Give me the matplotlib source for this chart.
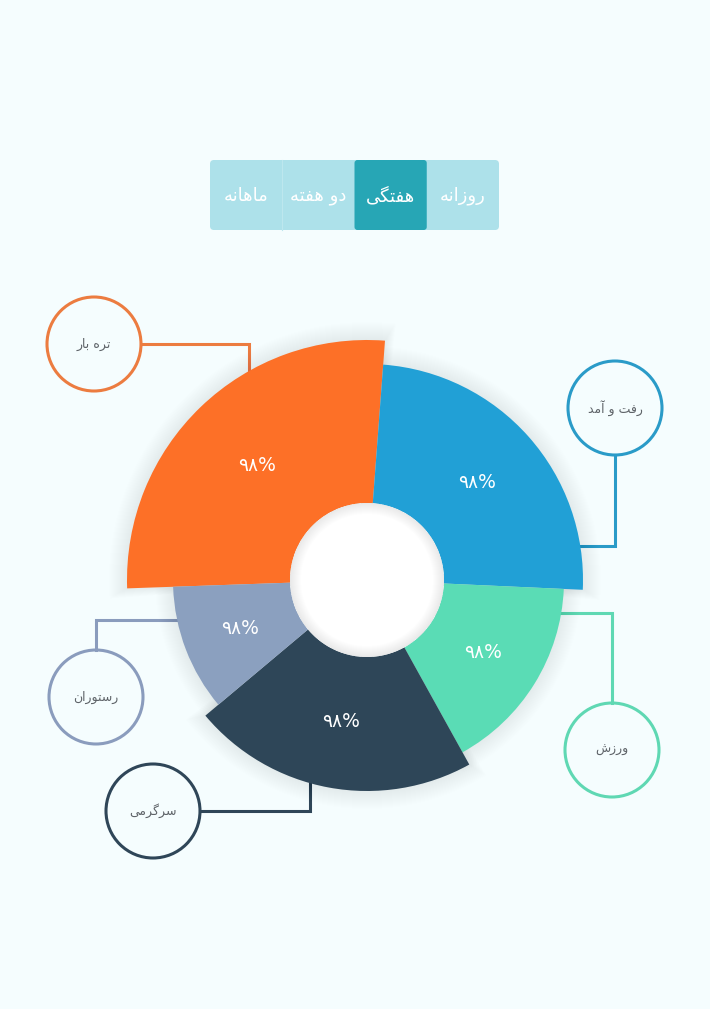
import numpy as np
import matplotlib
matplotlib.use('Agg')
import matplotlib.pyplot as plt
from matplotlib.patches import Circle, FancyBboxPatch

plt.rcParams['font.family'] = ['DejaVu Sans']

# data
categories = ['تره بار', 'رفت و آمد', 'ورزش', 'سرگرمی', 'رستوران']
start_deg = [268.0, 4.3, 92.6, 151.0, 230.0]     # clockwise from top
span_deg = [96.3, 88.3, 58.4, 79.0, 38.0]
outer_r = [240, 216, 197, 211, 194]               # px
percent = [98, 98, 98, 98, 98]
colors = ['#fd7027', '#21a0d6', '#5adcb5', '#2e4658', '#8ba0bf']
edge_colors = ['#ec7c40', '#2a9bc8', '#5fd8b3', '#2f4658', '#8a9cbd']
tabs = ['ماهانه', 'دو هفته', 'هفتگی', 'روزانه']
active_tab = 2

# minimal arabic-script shaping (isolated, final, initial, medial)
FORMS = {
    'ا': ('\uFE8D', '\uFE8E', None, None),
    'آ': ('\uFE81', '\uFE82', None, None),
    'ب': ('\uFE8F', '\uFE90', '\uFE91', '\uFE92'),
    'ت': ('\uFE95', '\uFE96', '\uFE97', '\uFE98'),
    'د': ('\uFEA9', '\uFEAA', None, None),
    'ر': ('\uFEAD', '\uFEAE', None, None),
    'ز': ('\uFEAF', '\uFEB0', None, None),
    'س': ('\uFEB1', '\uFEB2', '\uFEB3', '\uFEB4'),
    'ش': ('\uFEB5', '\uFEB6', '\uFEB7', '\uFEB8'),
    'ف': ('\uFED1', '\uFED2', '\uFED3', '\uFED4'),
    'م': ('\uFEE1', '\uFEE2', '\uFEE3', '\uFEE4'),
    'ن': ('\uFEE5', '\uFEE6', '\uFEE7', '\uFEE8'),
    'ه': ('\uFEE9', '\uFEEA', '\uFEEB', '\uFEEC'),
    'و': ('\uFEED', '\uFEEE', None, None),
    'گ': ('\uFB92', '\uFB93', '\uFB94', '\uFB95'),
    'ی': ('\uFBFC', '\uFBFD', '\uFBFE', '\uFBFF'),
}


def shape(s):
    out = []
    for i, c in enumerate(s):
        if c not in FORMS:
            out.append(c)
            continue
        f = FORMS[c]
        prev = s[i - 1] if i > 0 else None
        nxt = s[i + 1] if i + 1 < len(s) else None
        jp = prev in FORMS and FORMS[prev][2] is not None
        jn = f[2] is not None and nxt in FORMS
        if jp and jn:
            out.append(f[3])
        elif jp:
            out.append(f[1])
        elif jn:
            out.append(f[2])
        else:
            out.append(f[0])
    return ''.join(reversed(out))


def fa_digits(n):
    return str(n).translate(str.maketrans('0123456789', '۰۱۲۳۴۵۶۷۸۹'))


W, H = 710, 1009
bg = '#f5fdfe'
fig = plt.figure(figsize=(W / 100, H / 100), dpi=100, facecolor=bg)
ax = fig.add_axes([0, 0, 1, 1])
ax.set_xlim(0, W)
ax.set_ylim(H, 0)
ax.axis('off')
ax.set_facecolor(bg)

# tab bar
ax.add_patch(FancyBboxPatch((210, 160), 289, 70, boxstyle='round,pad=0,rounding_size=4',
                            fc='#ade1ea', ec='none'))
tab_w = 289 / len(tabs)
for i, t in enumerate(tabs):
    x0 = 210 + i * tab_w
    if i == active_tab:
        ax.add_patch(FancyBboxPatch((x0, 160), tab_w, 70, boxstyle='round,pad=0,rounding_size=3',
                                    fc='#27a6b5', ec='none'))
    elif i > 0 and i != active_tab + 1:
        ax.plot([x0, x0], [160, 230], color='#bde7ee', lw=0.8)
    ax.text(x0 + tab_w / 2, 196, shape(t), color='white', fontsize=13,
            ha='center', va='center')

# callouts: circle centre, connector path
callouts = [
    ((94, 344), [(141, 344), (249, 344), (249, 372)]),
    ((615, 408), [(615, 455), (615, 546), (570, 546)]),
    ((612, 750), [(612, 703), (612, 613), (555, 613)]),
    ((153, 811), [(200, 811), (310, 811), (310, 780)]),
    ((96, 697), [(96, 650), (96, 620), (185, 620)]),
]
for (c, path), lab, ec in zip(callouts, categories, edge_colors):
    ax.add_patch(Circle(c, 47, fc=bg, ec=ec, lw=2.2))
    xs, ys = zip(*path)
    ax.plot(xs, ys, color=ec, lw=2.2, solid_joinstyle='miter')
    ax.text(c[0], c[1], shape(lab), color='#5f6469', fontsize=9, ha='center', va='center')

# donut (polar axes placed so 1 radial unit = 1 px)
cx, cy, R, inner = 367, 580, 270, 77
pax = fig.add_axes([(cx - R) / W, (H - cy - R) / H, 2 * R / W, 2 * R / H], projection='polar')
pax.set_theta_zero_location('N')
pax.set_theta_direction(-1)
pax.set_ylim(0, R)
pax.axis('off')
pax.patch.set_alpha(0)

th0 = np.radians(start_deg)
spans = np.radians(span_deg)
mids = th0 + spans / 2
r_out = np.array(outer_r, dtype=float)

# soft shadow
for k in range(1, 19):
    pax.bar(mids, r_out + k - inner, width=spans + k / r_out, bottom=inner,
            color='#1a3040', alpha=0.0055, linewidth=0)

pax.bar(mids, r_out - inner, width=spans, bottom=inner, color=colors, linewidth=0)

# hole
pax.bar(0, inner, width=2 * np.pi, bottom=0, color='white', linewidth=0)
for k in range(1, 12):
    pax.bar(0, k, width=2 * np.pi, bottom=inner - k, color='#1a3040', alpha=0.009, linewidth=0)

for m, ro, p in zip(mids, r_out, percent):
    pax.text(m, (inner + ro) / 2, fa_digits(p) + '%', color='white', fontsize=13.5,
             ha='center', va='center')

fig.savefig('out.png', dpi=100, facecolor=bg)
